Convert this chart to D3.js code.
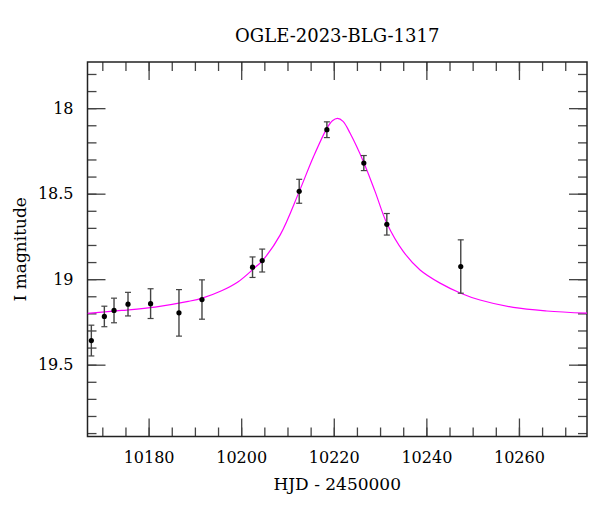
<!DOCTYPE html>
<html>
<head>
<meta charset="utf-8">
<script src="https://cdn.jsdelivr.net/npm/d3@7"></script>
<style>
  html, body { margin: 0; padding: 0; background: #fff; }
  svg { display: block; }
  text { font-family: "DejaVu Serif", "Liberation Serif", serif; fill: #000; }
</style>
</head>
<body>
<div id="chart"></div>
<script>
// ---- Data ----
const title = "OGLE-2023-BLG-1317";
const xLabel = "HJD - 2450000";
const yLabel = "I magnitude";

// Observations
const hjd = [10167.63, 10170.44, 10172.53, 10175.55, 10180.43, 10186.56, 10191.53,
             10202.45, 10204.54, 10212.53, 10218.51, 10226.49, 10231.46, 10247.43];
const imag = [19.359, 19.218, 19.183, 19.146, 19.143, 19.197, 19.119,
              18.930, 18.891, 18.486, 18.126, 18.321, 18.679, 18.926];
const ierr = [0.090, 0.060, 0.072, 0.069, 0.087, 0.136, 0.115,
              0.060, 0.067, 0.070, 0.046, 0.044, 0.063, 0.156];

// Model curve
const modelT = [10166.8, 10174.17, 10181.38, 10188.57, 10191.59, 10195.76, 10199.36,
                10202.97, 10204.54, 10208.43, 10212.53, 10215.61, 10218.51, 10219.7,
                10220.8, 10222.0, 10223.53, 10226.41, 10228.93, 10231.46, 10235.04,
                10238.64, 10242.96, 10247.43, 10251.59, 10258.78, 10265.99, 10274.7];
const modelMag = [19.200, 19.183, 19.163, 19.130, 19.111, 19.068, 19.015,
                  18.932, 18.893, 18.741, 18.488, 18.284, 18.118, 18.074,
                  18.060, 18.077, 18.147, 18.313, 18.488, 18.673, 18.839,
                  18.946, 19.023, 19.082, 19.122, 19.165, 19.186, 19.199];

// Axis ticks
const xMajorTicks = [10180, 10200, 10220, 10240, 10260];
const xMinorTicks = d3.range(10170, 10275, 5);
const yMajorTicks = [18, 18.5, 19, 19.5];
const yMinorTicks = d3.range(17.8, 19.95, 0.1).map(v => +v.toFixed(1));

const xDomain = [10166.8, 10274.7];
const yDomain = [17.73, 19.92];

// ---- Layout ----
const W = 600, H = 512;
const margin = { left: 87.5, top: 62, right: 13, bottom: 75.5 };
const pw = W - margin.left - margin.right;
const ph = H - margin.top - margin.bottom;

const svg = d3.select("#chart").append("svg").attr("width", W).attr("height", H);
const g = svg.append("g").attr("transform", `translate(${margin.left},${margin.top})`);

const x = d3.scaleLinear().domain(xDomain).range([0, pw]);
const y = d3.scaleLinear().domain(yDomain).range([0, ph]); // magnitudes: bright at top

const MAJ = 18, MIN = 9;
const tickColor = "#444";

function styleAxis(sel) {
  sel.select(".domain").remove();
  sel.selectAll(".tick line").attr("stroke", tickColor).attr("stroke-width", 1.3);
  sel.selectAll(".tick text").style("font-family", '"DejaVu Serif", serif').attr("fill", "#000");
}

// Bottom
g.append("g").attr("transform", `translate(0,${ph})`)
  .call(d3.axisBottom(x).tickValues(xMinorTicks).tickSize(-MIN).tickFormat(""))
  .call(styleAxis);
g.append("g").attr("transform", `translate(0,${ph})`)
  .call(d3.axisBottom(x).tickValues(xMajorTicks).tickSize(-MAJ).tickPadding(15).tickFormat(d => String(d)))
  .call(styleAxis)
  .selectAll("text").style("font-size", "16px");
// Top
g.append("g")
  .call(d3.axisTop(x).tickValues(xMinorTicks).tickSize(-MIN).tickFormat(""))
  .call(styleAxis);
g.append("g")
  .call(d3.axisTop(x).tickValues(xMajorTicks).tickSize(-MAJ).tickFormat(""))
  .call(styleAxis);
// Left
g.append("g")
  .call(d3.axisLeft(y).tickValues(yMinorTicks).tickSize(-MIN).tickFormat(""))
  .call(styleAxis);
g.append("g")
  .call(d3.axisLeft(y).tickValues(yMajorTicks).tickSize(-MAJ).tickPadding(14).tickFormat(d3.format("~g")))
  .call(styleAxis)
  .selectAll("text").style("font-size", "16px");
// Right
g.append("g").attr("transform", `translate(${pw},0)`)
  .call(d3.axisRight(y).tickValues(yMinorTicks).tickSize(-MIN).tickFormat(""))
  .call(styleAxis);
g.append("g").attr("transform", `translate(${pw},0)`)
  .call(d3.axisRight(y).tickValues(yMajorTicks).tickSize(-MAJ).tickFormat(""))
  .call(styleAxis);

// Frame
g.append("rect").attr("x", 0).attr("y", 0).attr("width", pw).attr("height", ph)
  .attr("fill", "none").attr("stroke", "#222").attr("stroke-width", 1.5);

// Model curve
svg.append("defs").append("clipPath").attr("id", "plotclip")
  .append("rect").attr("width", pw).attr("height", ph);
const modelData = modelT.map((t, i) => ({ t, m: modelMag[i] }));
g.append("path")
  .datum(modelData)
  .attr("clip-path", "url(#plotclip)")
  .attr("fill", "none")
  .attr("stroke", "#ff00ff")
  .attr("stroke-width", 1.2)
  .attr("d", d3.line().x(d => x(d.t)).y(d => y(d.m)).curve(d3.curveCatmullRom.alpha(0.5)));

// Observations
const obs = hjd.map((t, i) => ({ t, m: imag[i], e: ierr[i] }));
const pts = g.append("g").selectAll("g").data(obs).join("g");
const cap = 3;
pts.append("line")
  .attr("x1", d => x(d.t)).attr("x2", d => x(d.t))
  .attr("y1", d => y(d.m - d.e)).attr("y2", d => y(d.m + d.e))
  .attr("stroke", "#444").attr("stroke-width", 1.4);
pts.append("line")
  .attr("x1", d => x(d.t) - cap).attr("x2", d => x(d.t) + cap)
  .attr("y1", d => y(d.m - d.e)).attr("y2", d => y(d.m - d.e))
  .attr("stroke", "#444").attr("stroke-width", 1.2);
pts.append("line")
  .attr("x1", d => x(d.t) - cap).attr("x2", d => x(d.t) + cap)
  .attr("y1", d => y(d.m + d.e)).attr("y2", d => y(d.m + d.e))
  .attr("stroke", "#444").attr("stroke-width", 1.2);
pts.append("circle")
  .attr("cx", d => x(d.t)).attr("cy", d => y(d.m)).attr("r", 2.6)
  .attr("fill", "#000");

// Title and labels
svg.append("text")
  .attr("x", margin.left + pw / 2).attr("y", 42)
  .attr("text-anchor", "middle").style("font-size", "18px")
  .text(title);
svg.append("text")
  .attr("x", margin.left + pw / 2).attr("y", 490)
  .attr("text-anchor", "middle").style("font-size", "17px")
  .text(xLabel);
svg.append("text")
  .attr("transform", `translate(26,${margin.top + ph / 2}) rotate(-90)`)
  .attr("text-anchor", "middle").style("font-size", "17px")
  .text(yLabel);
</script>
</body>
</html>
